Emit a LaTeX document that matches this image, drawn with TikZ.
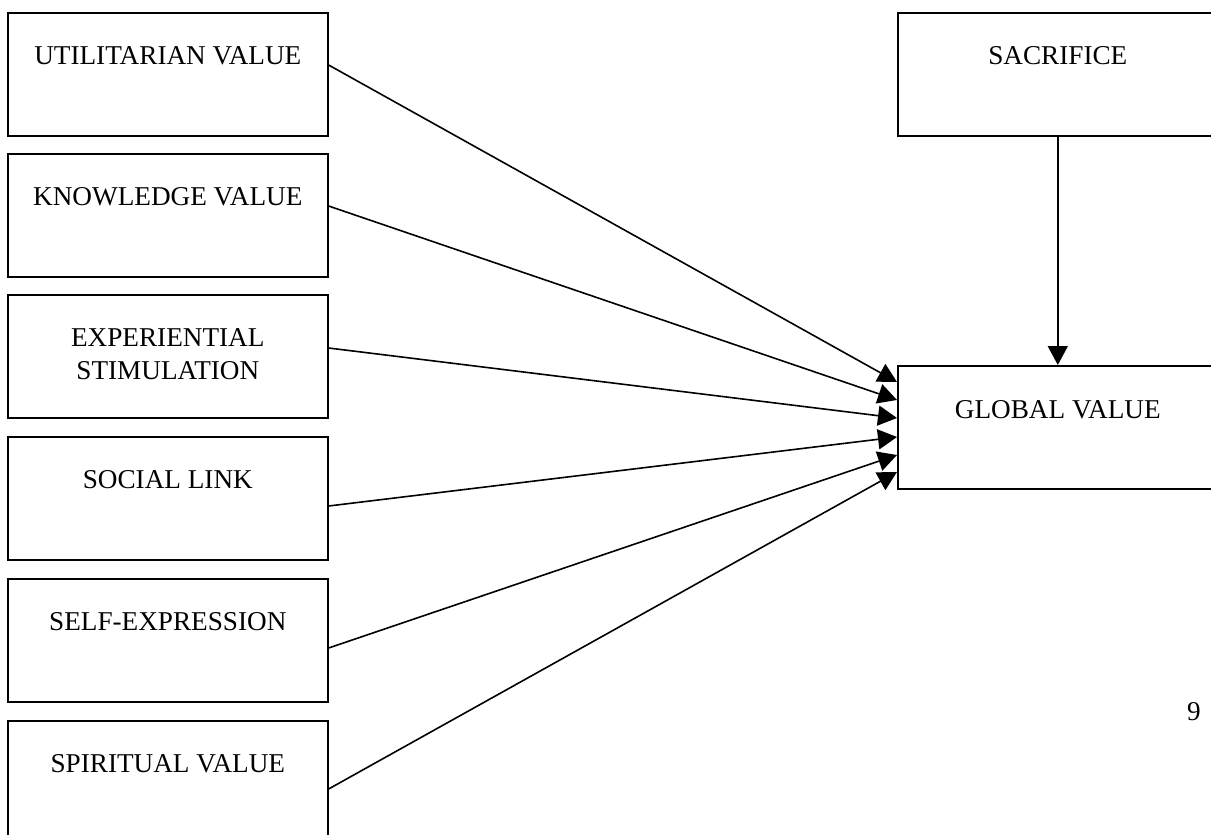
\documentclass[tikz,border=0pt]{standalone}
\usepackage{fontspec}
\setmainfont{Liberation Serif}
\usetikzlibrary{arrows.meta,calc}
\begin{document}
\begin{tikzpicture}[x=1pt,y=-1pt,
  box/.style={draw=black,line width=1.6pt,minimum width=320pt,minimum height=123pt,inner sep=0pt,anchor=north west},
  lbl/.style={inner sep=0pt,anchor=base,font=\fontsize{27.2pt}{33pt}\selectfont},
  conn/.style={line width=1.6pt,-{Triangle[length=19pt,width=20pt]}}]
\useasboundingbox (0,0) rectangle (1211,835);
\clip (0,0) rectangle (1211,835);
% left boxes
\node[box] (b1) at (7,12) {};
\node[box] (b2) at (7,153) {};
\node[box] (b3) at (7,294) {};
\node[box] (b4) at (7,436) {};
\node[box] (b5) at (7,578) {};
\node[box] (b6) at (7,720) {};
% right boxes
\node[box] (s) at (897,12) {};
\node[box] (g) at (897,365) {};
% labels
\node[lbl] (t1) at ($(b1.north)+(0,52)$) {UTILITARIAN VALUE};
\node[lbl] (t2) at ($(b2.north)+(0,52)$) {KNOWLEDGE VALUE};
\node[lbl] (t3) at ($(b3.north)+(0,52)$) {\begin{tabular}[t]{@{}c@{}}EXPERIENTIAL\\STIMULATION\end{tabular}};
\node[lbl] (t4) at ($(b4.north)+(0,52)$) {SOCIAL LINK};
\node[lbl] (t5) at ($(b5.north)+(0,52)$) {SELF-EXPRESSION};
\node[lbl] (t6) at ($(b6.north)+(0,52)$) {SPIRITUAL VALUE};
\node[lbl] (ts) at ($(s.north)+(0,52)$) {SACRIFICE};
\node[lbl] (tg) at ($(g.north)+(0,53)$) {GLOBAL VALUE};
\node[lbl] (pg) at (1194,720) {9};
% connector end points
\coordinate (e1) at ($(b1.north east)+(0,53)$);
\coordinate (e2) at ($(b2.north east)+(0,53)$);
\coordinate (e3) at ($(b3.north east)+(0,54)$);
\coordinate (e4) at ($(b4.north east)+(0,70)$);
\coordinate (e5) at ($(b5.north east)+(0,70)$);
\coordinate (e6) at ($(b6.north east)+(0,69)$);
\coordinate (g1) at ($(g.north west)+(0,17)$);
\coordinate (g2) at ($(g.north west)+(0,35)$);
\coordinate (g3) at ($(g.north west)+(0,53)$);
\coordinate (g4) at ($(g.north west)+(0,72)$);
\coordinate (g5) at ($(g.north west)+(0,90)$);
\coordinate (g6) at ($(g.north west)+(0,107)$);
\draw[conn] (e1) -- (g1);
\draw[conn] (e2) -- (g2);
\draw[conn] (e3) -- (g3);
\draw[conn] (e4) -- (g4);
\draw[conn] (e5) -- (g5);
\draw[conn] (e6) -- (g6);
\draw[conn] (s.south) -- (g.north);
\end{tikzpicture}
\end{document}
